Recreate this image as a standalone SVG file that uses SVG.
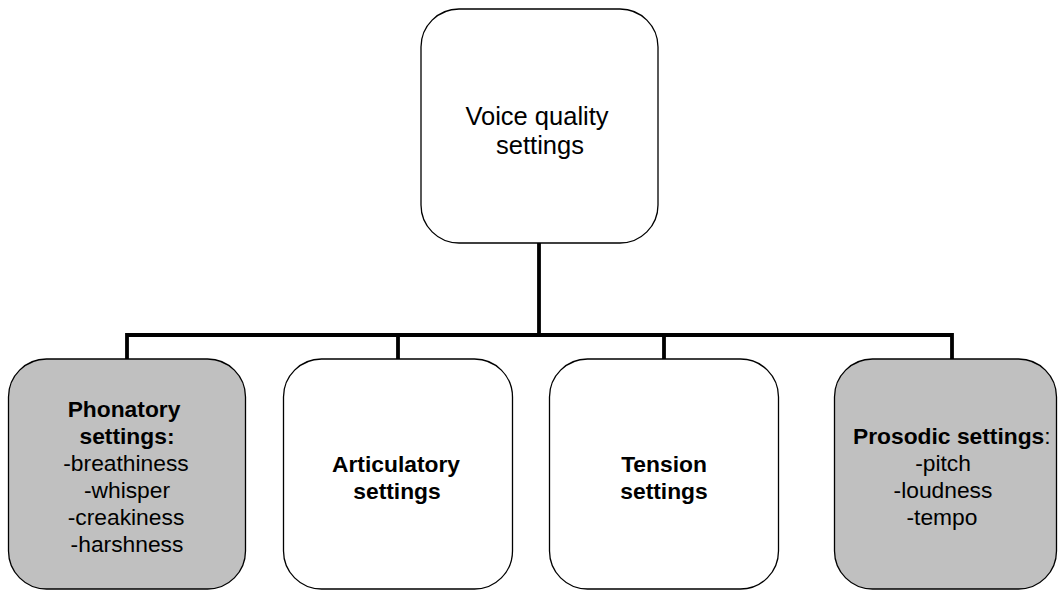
<svg xmlns="http://www.w3.org/2000/svg" width="1058" height="590" viewBox="0 0 1058 590">
<style>
.box{stroke:#000;stroke-width:1.3}
.white{fill:#fff}
.gray{fill:#c0c0c0}
.conn{stroke:#000;stroke-width:3.8;fill:none;stroke-linecap:square}
text{font-family:"Liberation Sans",Arial,sans-serif;font-size:22.8px;fill:#000}
.b{font-weight:bold}
.c{text-anchor:middle}
</style>
<rect width="1058" height="590" fill="#fff"/>
<g id="connectors">
<path class="conn" d="M539 243 V335 M127 335 H952 M127 335 V359 M398 335 V359 M664 335 V359 M952 335 V359"/>
</g>
<g id="root">
<rect class="box white" x="421" y="9" width="237" height="234" rx="38"/>
<text class="c" x="537" y="125" style="font-size:25.5px">Voice quality</text>
<text class="c" x="540" y="153.5" style="font-size:25.5px">settings</text>
</g>
<g id="phonatory">
<rect class="box gray" x="8.5" y="359" width="237" height="230" rx="38"/>
<text class="c b" x="124" y="417">Phonatory</text>
<text class="c b" x="127" y="444">settings:</text>
<text class="c" x="126" y="471">-breathiness</text>
<text class="c" x="127" y="498">-whisper</text>
<text class="c" x="126" y="525">-creakiness</text>
<text class="c" x="127" y="552">-harshness</text>
</g>
<g id="articulatory">
<rect class="box white" x="283.5" y="359" width="229" height="230" rx="38"/>
<text class="c b" x="396" y="472">Articulatory</text>
<text class="c b" x="397" y="499">settings</text>
</g>
<g id="tension">
<rect class="box white" x="549.5" y="359" width="229" height="230" rx="38"/>
<text class="c b" x="664" y="472">Tension</text>
<text class="c b" x="664" y="499">settings</text>
</g>
<g id="prosodic">
<rect class="box gray" x="834.5" y="359" width="222" height="230" rx="38"/>
<text x="853" y="444"><tspan class="b">Prosodic settings</tspan>:</text>
<text class="c" x="943" y="471">-pitch</text>
<text class="c" x="943" y="498">-loudness</text>
<text class="c" x="942" y="525">-tempo</text>
</g>
</svg>
